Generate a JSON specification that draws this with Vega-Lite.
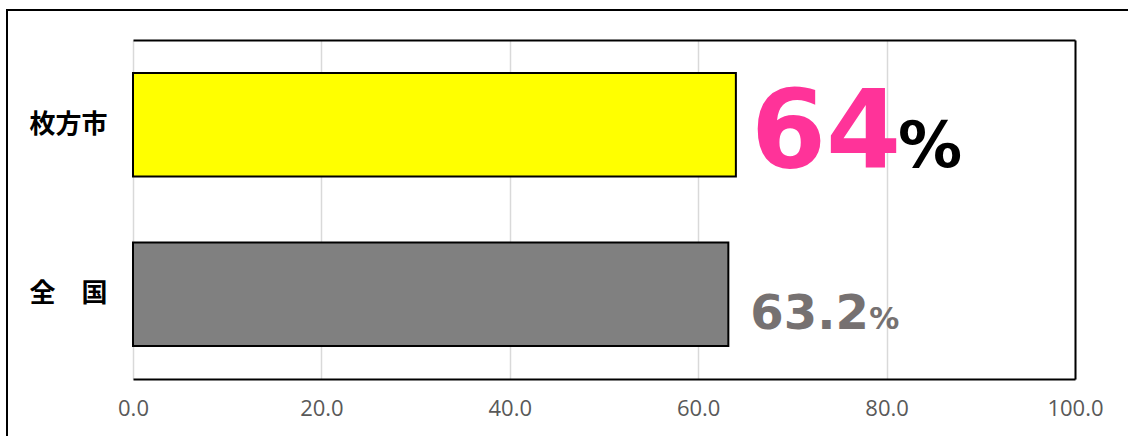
{
  "$schema": "https://vega.github.io/schema/vega-lite/v6.json",
  "width": 1130,
  "height": 440,
  "autosize": {"type": "none"},
  "padding": {"left": 7, "top": 10, "right": 0, "bottom": 0},
  "background": "white",
  "config": {
    "view": {"stroke": "black", "strokeWidth": 2},
    "axis": {"ticks": false, "title": null}
  },
  "data": {"values": [
    {"region": "枚方市", "value": 64},
    {"region": "全　国", "value": 63.2}
  ]},
  "resolve": {"axis": {"x": "independent", "y": "independent"}},
  "layer": [
    {
      "mark": {"type": "bar", "stroke": "black", "strokeWidth": 2},
      "encoding": {
        "x": {"field": "value", "type": "quantitative",
          "scale": {"domain": [0, 100], "range": [126, 1068], "nice": false, "zero": true},
          "axis": {"orient": "bottom", "offset": -71, "values": [0, 20, 40, 60, 80, 100], "format": ".1f",
            "grid": false, "domain": true, "domainColor": "black", "domainWidth": 2, "labelFlush": false,
            "labelFont": "Open Sans", "labelFontSize": 22, "labelColor": "#595959", "labelPadding": 19}},
        "y": {"field": "region", "type": "nominal", "sort": ["枚方市", "全　国"],
          "scale": {"range": [30, 369], "paddingInner": 0.39, "paddingOuter": 0.195},
          "axis": {"orient": "left", "offset": -126, "domain": false, "grid": false,
            "labelFont": "Noto Sans CJK JP", "labelFontWeight": "bold", "labelFontSize": 26, "labelColor": "black", "labelPadding": 26}},
        "color": {"field": "region", "type": "nominal", "legend": null,
          "scale": {"domain": ["枚方市", "全　国"], "range": ["#FFFF00", "#808080"]}}
      }
    },
    {
      "transform": [{"filter": "datum.region === '枚方市'"}],
      "mark": {"type": "text", "font": "DejaVu Sans", "fontWeight": "bold", "fontSize": 108, "color": "#FF3399",
        "align": "left", "baseline": "alphabetic", "dx": 15, "dy": 42},
      "encoding": {
        "x": {"field": "value", "type": "quantitative",
          "scale": {"domain": [0, 100], "range": [126, 1068], "nice": false, "zero": true},
          "axis": {"orient": "top", "offset": -30, "values": [0, 20, 40, 60, 80, 100], "labels": false,
            "grid": true, "gridColor": "#D9D9D9", "gridWidth": 1.5, "domain": true, "domainColor": "black", "domainWidth": 2}},
        "y": {"field": "region", "type": "nominal", "sort": ["枚方市", "全　国"],
          "scale": {"range": [30, 369], "paddingInner": 0.39, "paddingOuter": 0.195},
          "axis": {"orient": "right", "offset": -62, "labels": false, "grid": false, "domain": true, "domainColor": "black", "domainWidth": 2}},
        "text": {"field": "value", "type": "nominal"}
      }
    },
    {
      "transform": [{"filter": "datum.region === '枚方市'"}],
      "mark": {"type": "text", "font": "DejaVu Sans", "fontWeight": "bold", "fontSize": 64, "color": "black",
        "align": "left", "baseline": "alphabetic", "dx": 162, "dy": 42},
      "encoding": {
        "x": {"field": "value", "type": "quantitative", "scale": {"domain": [0, 100], "range": [126, 1068], "nice": false}, "axis": null},
        "y": {"field": "region", "type": "nominal", "sort": ["枚方市", "全　国"], "axis": null},
        "text": {"value": "%"}
      }
    },
    {
      "transform": [{"filter": "datum.region === '全　国'"}],
      "mark": {"type": "text", "font": "DejaVu Sans", "fontWeight": "bold", "fontSize": 48, "color": "#767171",
        "align": "left", "baseline": "alphabetic", "dx": 22, "dy": 35},
      "encoding": {
        "x": {"field": "value", "type": "quantitative", "scale": {"domain": [0, 100], "range": [126, 1068], "nice": false}, "axis": null},
        "y": {"field": "region", "type": "nominal", "sort": ["枚方市", "全　国"], "axis": null},
        "text": {"field": "value", "type": "nominal"}
      }
    },
    {
      "transform": [{"filter": "datum.region === '全　国'"}],
      "mark": {"type": "text", "font": "DejaVu Sans", "fontWeight": "bold", "fontSize": 30, "color": "#767171",
        "align": "left", "baseline": "alphabetic", "dx": 141, "dy": 35},
      "encoding": {
        "x": {"field": "value", "type": "quantitative", "scale": {"domain": [0, 100], "range": [126, 1068], "nice": false}, "axis": null},
        "y": {"field": "region", "type": "nominal", "sort": ["枚方市", "全　国"], "axis": null},
        "text": {"value": "%"}
      }
    }
  ]
}
